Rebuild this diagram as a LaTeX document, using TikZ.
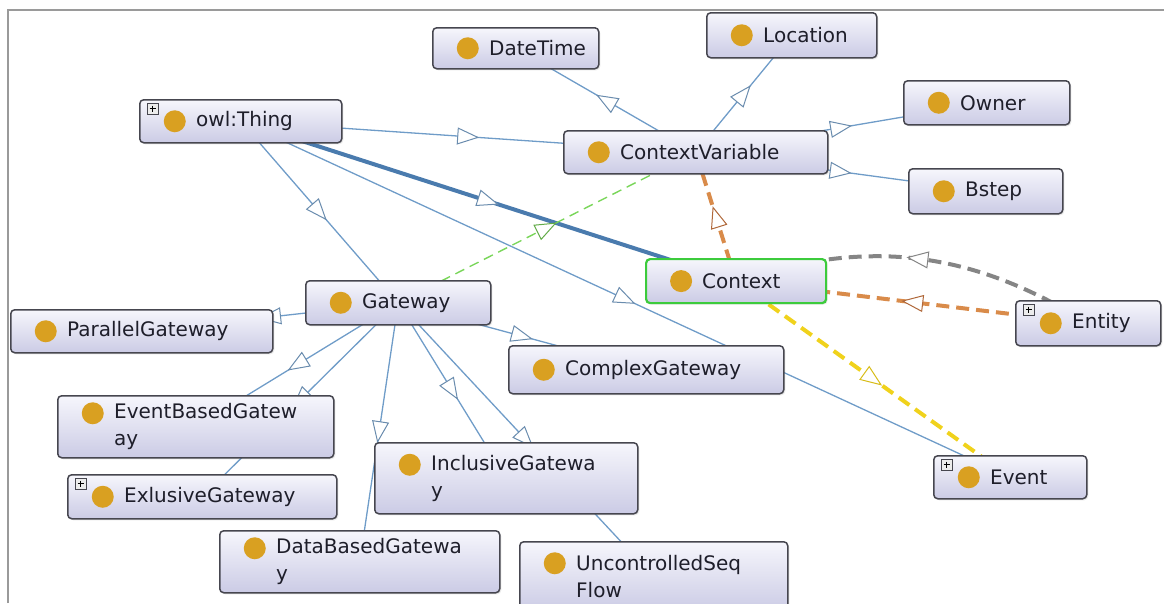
\documentclass[tikz,border=0pt]{standalone}
\usepackage{fontspec}
\setmainfont{DejaVu Sans}
\usetikzlibrary{arrows.meta,decorations.markings,backgrounds,shadows}
\definecolor{ClsBorder}{HTML}{46464F}
\definecolor{ClsTop}{HTML}{F6F6FC}
\definecolor{ClsBottom}{HTML}{CBCBE5}
\definecolor{ClsDot}{HTML}{D9A021}
\definecolor{ClsText}{HTML}{1E1E2A}
\definecolor{IsaBlue}{HTML}{6F9CC8}
\definecolor{IsaDark}{HTML}{4A7BAE}
\definecolor{IsaTip}{HTML}{6A8CAE}
\definecolor{PropGreen}{HTML}{7AD65A}
\definecolor{PropOrange}{HTML}{D98B4A}
\definecolor{PropOrangeTip}{HTML}{B0683A}
\definecolor{PropGray}{HTML}{858585}
\definecolor{PropYellow}{HTML}{F0D21C}
\definecolor{SelGreen}{HTML}{3CCB3C}
\definecolor{FrameGray}{HTML}{9A9A9A}

\begin{document}
\begin{tikzpicture}[x=1pt, y=-1pt,
  cls/.style={draw=ClsBorder, line width=1.5pt, rounded corners=4pt,
    top color=ClsTop, bottom color=ClsBottom, anchor=north west, inner sep=0pt,
    drop shadow={shadow xshift=1.5pt, shadow yshift=-1.5pt, opacity=0.18},
    path picture={\fill[ClsDot] ([xshift=35pt, yshift=#1]path picture bounding box.west) circle (11pt);}},
  cls/.default=0pt,
  lbl/.style={anchor=west, xshift=57pt, inner sep=0pt, align=left, text=ClsText,
    font=\fontsize{20}{27}\selectfont},
  midtip/.style={postaction={decorate, decoration={markings,
    mark=at position 0.5 with {\arrow[xshift=11pt]{Triangle[fill=white, length=22pt, width=17pt, line width=1pt, color=#1]}}}}},
  isa/.style={draw=IsaBlue, line width=1.3pt, midtip=IsaTip},
  isabold/.style={draw=IsaDark, line width=4pt},
  propgreen/.style={draw=PropGreen, line width=1.4pt, dash pattern=on 10pt off 6pt, midtip=PropGreen!80!black},
  proporange/.style={draw=PropOrange, line width=4pt, dash pattern=on 13pt off 7pt, midtip=PropOrangeTip},
  propgray/.style={draw=PropGray, line width=4pt, dash pattern=on 13pt off 7pt, midtip=PropGray},
  propyellow/.style={draw=PropYellow, line width=4pt, dash pattern=on 13pt off 7pt, midtip=PropYellow!90!black},
  iconbox/.style={draw=ClsBorder, fill=white!85!gray, line width=0.8pt},
  iconplus/.style={draw=black, line width=1pt}]
  \useasboundingbox (0,0) rectangle (1164,603);
  % frame of the viewer
  \draw[FrameGray, line width=1.5pt] (8,603) -- (8,10) -- (1164,10);

  % classes
  \node[cls, minimum width=166pt, minimum height=41pt, label={[lbl]west:DateTime}] (datetime) at (432,27) {};
  \node[cls, minimum width=170pt, minimum height=45pt, label={[lbl]west:Location}] (location) at (706,12) {};
  \node[cls, minimum width=202pt, minimum height=43pt, label={[lbl]west:{owl:Thing}}] (thing) at (139,99) {};
  \node[cls, minimum width=166pt, minimum height=44pt, label={[lbl]west:Owner}] (owner) at (903,80) {};
  \node[cls, minimum width=264pt, minimum height=43pt, label={[lbl]west:ContextVariable}] (ctxvar) at (563,130) {};
  \node[cls, minimum width=154pt, minimum height=45pt, label={[lbl]west:Bstep}] (bstep) at (908,168) {};
  \node[cls, draw=SelGreen, line width=2.2pt, minimum width=180pt, minimum height=44pt, label={[lbl]west:Context}] (context) at (645,258) {};
  \node[cls, minimum width=185pt, minimum height=44pt, label={[lbl]west:Gateway}] (gateway) at (305,280) {};
  \node[cls, minimum width=262pt, minimum height=43pt, label={[lbl]west:ParallelGateway}] (parallel) at (10,309) {};
  \node[cls, minimum width=145pt, minimum height=45pt, label={[lbl]west:Entity}] (entity) at (1015,300) {};
  \node[cls, minimum width=275pt, minimum height=48pt, label={[lbl]west:ComplexGateway}] (complex) at (508,345) {};
  \node[cls=13.5pt, minimum width=276pt, minimum height=62pt, label={[lbl]west:EventBasedGatew\\ay}] (eventbased) at (57,395) {};
  \node[cls=13.5pt, minimum width=263pt, minimum height=71pt, label={[lbl]west:InclusiveGatewa\\y}] (inclusive) at (374,442) {};
  \node[cls, minimum width=153pt, minimum height=43pt, label={[lbl]west:Event}] (event) at (933,455) {};
  \node[cls, minimum width=269pt, minimum height=44pt, label={[lbl]west:ExlusiveGateway}] (exlusive) at (67,474) {};
  \node[cls=13.5pt, minimum width=280pt, minimum height=62pt, label={[lbl]west:DataBasedGatewa\\y}] (databased) at (219,530) {};
  \node[cls=13.5pt, minimum width=268pt, minimum height=70pt, label={[lbl]west:UncontrolledSeq\\Flow}] (uncontrolled) at (519,541) {};

  % expand icons
  \foreach \n in {thing,entity,event,exlusive}{
    \draw[iconbox] ([xshift=8pt, yshift=-4pt]\n.north west) rectangle ([xshift=19pt, yshift=-15pt]\n.north west);
    \draw[iconplus] ([xshift=10.5pt, yshift=-9.5pt]\n.north west) -- ([xshift=16.5pt, yshift=-9.5pt]\n.north west)
      ([xshift=13.5pt, yshift=-6.5pt]\n.north west) -- ([xshift=13.5pt, yshift=-12.5pt]\n.north west);
  }

  % subclass and property edges
  \begin{scope}[on background layer]
    \draw[isa] (thing.center) -- (ctxvar.center);
    \draw[isa, isabold] (thing.center) -- (context.center);
    \draw[isa] (thing.center) -- (gateway.center);
    \draw[isa] (thing.center) -- (event.center);
    \draw[isa] (ctxvar.center) -- (datetime.center);
    \draw[isa] (ctxvar.center) -- (location.center);
    \draw[isa] (ctxvar.center) -- (owner.center);
    \draw[isa] (ctxvar.center) -- (bstep.center);
    \draw[isa] (gateway.center) -- (parallel.center);
    \draw[isa] (gateway.center) -- (complex.center);
    \draw[isa] (gateway.center) -- (eventbased.center);
    \draw[isa] (gateway.center) -- (exlusive.center);
    \draw[isa] (gateway.center) -- (databased.center);
    \draw[isa] (gateway.center) -- (inclusive.center);
    \draw[isa] (gateway.center) -- (uncontrolled.center);
    \draw[propgreen] (gateway.center) -- (ctxvar.center);
    \draw[proporange] (context.center) -- (ctxvar.center);
    \draw[proporange] (entity.center) -- (context.center);
    \draw[propgray] (entity.center) to[bend right=25] (context.center);
    \draw[propyellow] (context.center) -- (event.center);
  \end{scope}
\end{tikzpicture}
\end{document}
